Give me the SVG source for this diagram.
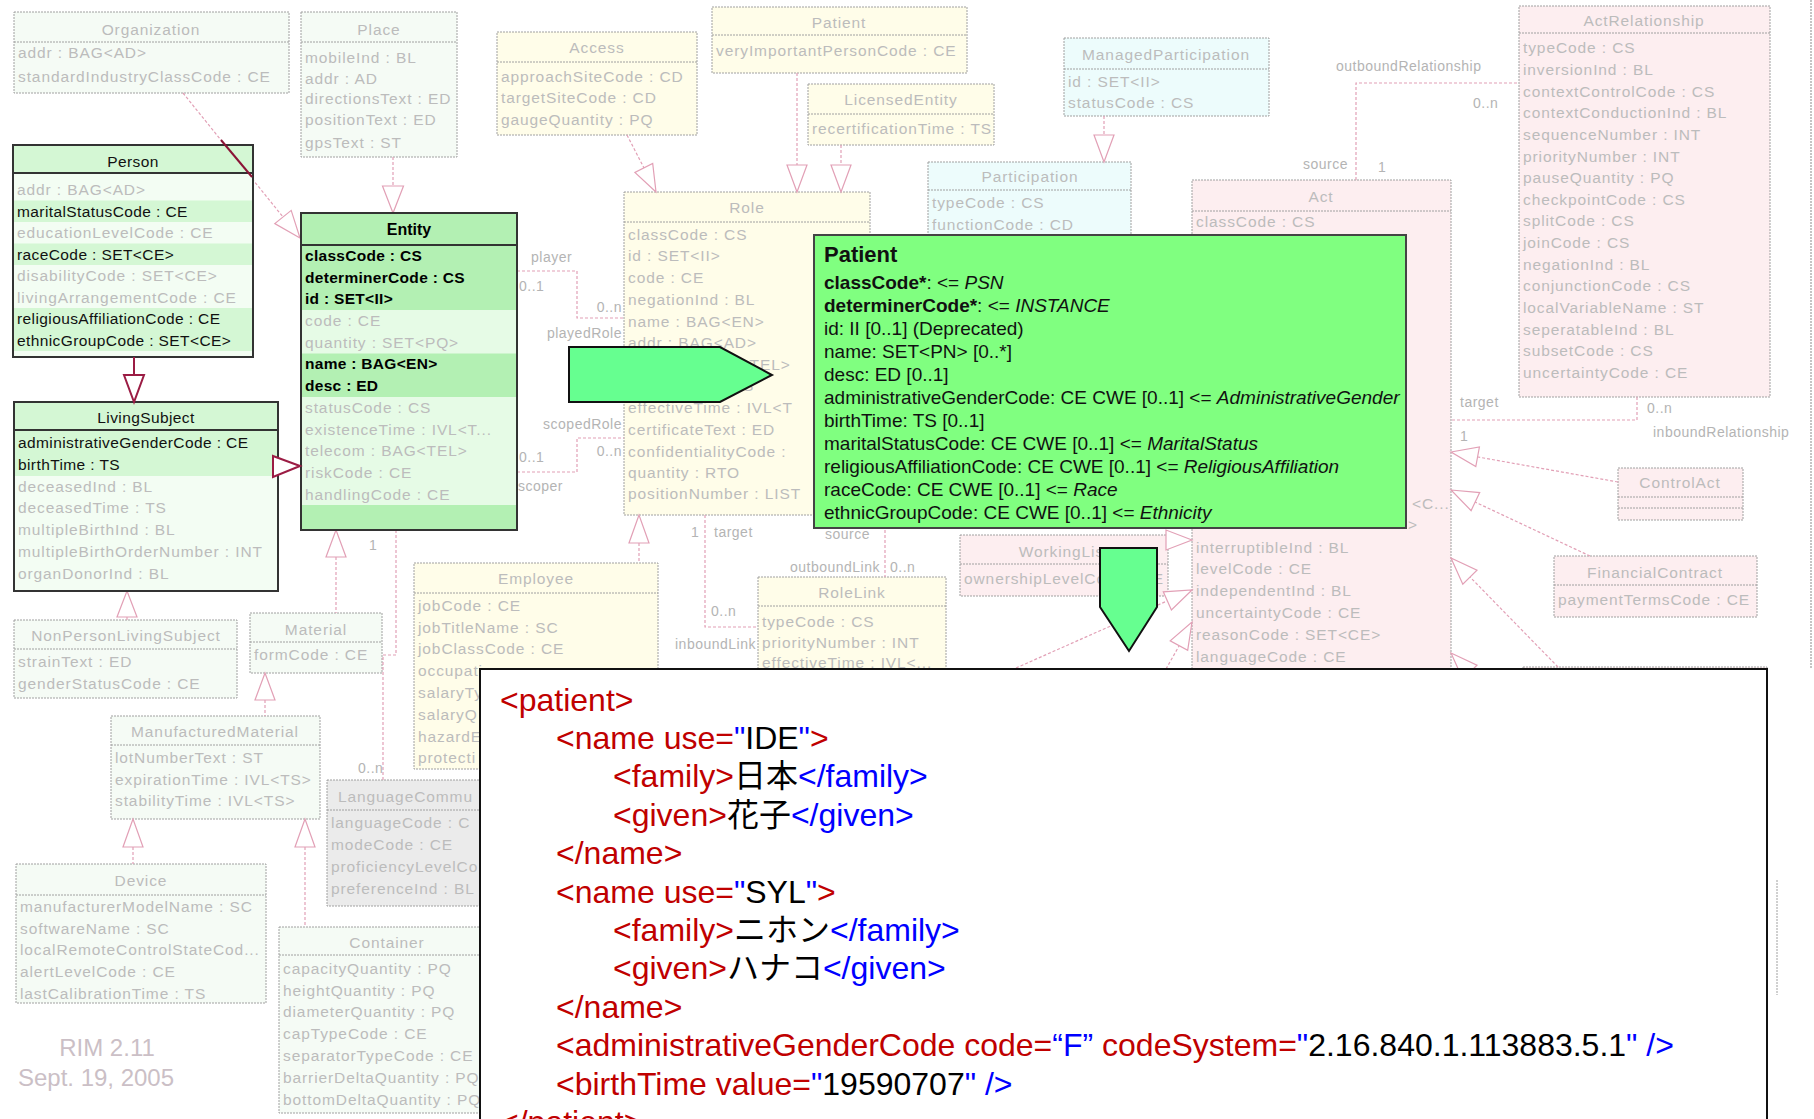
<svg xmlns="http://www.w3.org/2000/svg" width="1814" height="1119" viewBox="0 0 1814 1119">
<style>
text{font-family:'Liberation Sans',Arial,sans-serif}
.r{font-size:15.5px;letter-spacing:0.9px;fill:#bcbcbc}
.h{font-size:15.5px;letter-spacing:0.9px;fill:#bcbcbc;text-anchor:middle}
.d{font-size:15.5px;letter-spacing:0.4px;fill:#111}
.db{font-size:15.5px;letter-spacing:0.3px;font-weight:bold;fill:#000}
.hd{font-size:15.5px;letter-spacing:0.4px;fill:#111;text-anchor:middle}
.hdb{font-size:16px;font-weight:bold;fill:#000;text-anchor:middle}
.bx{stroke:#a0a0a0;stroke-width:1;stroke-dasharray:2 1}
.sep{stroke:#a0a0a0;stroke-width:1;stroke-dasharray:2 1;fill:none}
.ge{fill:#f5fbf5}.ro{fill:#fffde9}.pa{fill:#edfcfc}.ac{fill:#fdeef0}.gr{fill:#ebebeb}
.c{fill:none;stroke:#e2a0b6;stroke-width:1.2;stroke-dasharray:3 2}
.tri{fill:#fff;stroke:#e2a0b6;stroke-width:1.2}
.lb{font-size:14px;letter-spacing:0.5px;fill:#b4b4b4}
.lbe{font-size:14px;letter-spacing:0.5px;fill:#b4b4b4;text-anchor:end}
.hl{fill:none;stroke:#333;stroke-width:2}
.mr{fill:none;stroke:#9b1c44;stroke-width:2}
.mrt{fill:#fff;stroke:#9b1c44;stroke-width:2}
.pt{font-size:19px;fill:#111}
.x{font-size:32px;fill:#000}
.b{fill:#0000ff}.e{fill:#c00000}
.cj{font-family:'Noto Sans CJK JP',sans-serif}
.big{fill:#66ff90;stroke:#111;stroke-width:2}
</style>
<defs>
<clipPath id="outx"><rect x="0" y="0" width="480" height="1119"/><rect x="0" y="0" width="1814" height="669"/></clipPath>
</defs>

<g id="organization">
<rect x="14" y="12" width="275" height="81" class="bx ge"/>
<line x1="14" y1="42" x2="289" y2="42" class="sep"/>
<text x="151" y="35" class="h">Organization</text>
<text x="18" y="58" class="r">addr : BAG&lt;AD&gt;</text>
<text x="18" y="82" class="r">standardIndustryClassCode : CE</text>
</g>

<g id="place">
<rect x="301" y="12" width="156" height="145" class="bx ge"/>
<line x1="301" y1="42" x2="457" y2="42" class="sep"/>
<text x="379" y="35" class="h">Place</text>
<text x="305" y="63" class="r">mobileInd : BL</text>
<text x="305" y="84" class="r">addr : AD</text>
<text x="305" y="104" class="r">directionsText : ED</text>
<text x="305" y="125" class="r">positionText : ED</text>
<text x="305" y="148" class="r">gpsText : ST</text>
</g>

<g id="access">
<rect x="497" y="32" width="200" height="103" class="bx ro"/>
<line x1="497" y1="62" x2="697" y2="62" class="sep"/>
<text x="597" y="53" class="h">Access</text>
<text x="501" y="82" class="r">approachSiteCode : CD</text>
<text x="501" y="103" class="r">targetSiteCode : CD</text>
<text x="501" y="125" class="r">gaugeQuantity : PQ</text>
</g>

<g id="patient-class">
<rect x="712" y="7" width="255" height="66" class="bx ro"/>
<line x1="712" y1="35" x2="967" y2="35" class="sep"/>
<text x="839" y="28" class="h">Patient</text>
<text x="716" y="56" class="r">veryImportantPersonCode : CE</text>
</g>

<g id="licensed-entity">
<rect x="808" y="84" width="186" height="61" class="bx ro"/>
<line x1="808" y1="114" x2="994" y2="114" class="sep"/>
<text x="901" y="105" class="h">LicensedEntity</text>
<text x="812" y="134" class="r">recertificationTime : TS</text>
</g>

<g id="managed-participation">
<rect x="1064" y="38" width="205" height="78" class="bx pa"/>
<line x1="1064" y1="69" x2="1269" y2="69" class="sep"/>
<text x="1166" y="60" class="h">ManagedParticipation</text>
<text x="1068" y="87" class="r">id : SET&lt;II&gt;</text>
<text x="1068" y="108" class="r">statusCode : CS</text>
</g>

<g id="participation">
<rect x="928" y="162" width="203" height="200" class="bx pa"/>
<line x1="928" y1="190" x2="1131" y2="190" class="sep"/>
<text x="1030" y="182" class="h">Participation</text>
<text x="932" y="208" class="r">typeCode : CS</text>
<text x="932" y="230" class="r">functionCode : CD</text>
</g>

<g id="act-relationship">
<rect x="1519" y="6" width="251" height="391" class="bx ac"/>
<line x1="1519" y1="33" x2="1770" y2="33" class="sep"/>
<text x="1644" y="26" class="h">ActRelationship</text>
<text x="1523" y="53" class="r">typeCode : CS</text>
<text x="1523" y="75" class="r">inversionInd : BL</text>
<text x="1523" y="97" class="r">contextControlCode : CS</text>
<text x="1523" y="118" class="r">contextConductionInd : BL</text>
<text x="1523" y="140" class="r">sequenceNumber : INT</text>
<text x="1523" y="162" class="r">priorityNumber : INT</text>
<text x="1523" y="183" class="r">pauseQuantity : PQ</text>
<text x="1523" y="205" class="r">checkpointCode : CS</text>
<text x="1523" y="226" class="r">splitCode : CS</text>
<text x="1523" y="248" class="r">joinCode : CS</text>
<text x="1523" y="270" class="r">negationInd : BL</text>
<text x="1523" y="291" class="r">conjunctionCode : CS</text>
<text x="1523" y="313" class="r">localVariableName : ST</text>
<text x="1523" y="335" class="r">seperatableInd : BL</text>
<text x="1523" y="356" class="r">subsetCode : CS</text>
<text x="1523" y="378" class="r">uncertaintyCode : CE</text>
</g>

<g id="act">
<rect x="1192" y="180" width="259" height="500" class="bx ac"/>
<line x1="1192" y1="211" x2="1451" y2="211" class="sep"/>
<text x="1321" y="202" class="h">Act</text>
<text x="1196" y="227" class="r">classCode : CS</text>
<text x="1412" y="509" class="r">&lt;C...</text>
<text x="1408" y="530" class="r">&gt;</text>
<text x="1196" y="553" class="r">interruptibleInd : BL</text>
<text x="1196" y="574" class="r">levelCode : CE</text>
<text x="1196" y="596" class="r">independentInd : BL</text>
<text x="1196" y="618" class="r">uncertaintyCode : CE</text>
<text x="1196" y="640" class="r">reasonCode : SET&lt;CE&gt;</text>
<text x="1196" y="662" class="r">languageCode : CE</text>
</g>

<g id="control-act">
<rect x="1618" y="468" width="125" height="52" class="bx ac"/>
<line x1="1618" y1="497" x2="1743" y2="497" class="sep"/>
<line x1="1618" y1="508" x2="1743" y2="508" class="sep"/>
<text x="1680" y="488" class="h">ControlAct</text>
</g>

<g id="financial-contract">
<rect x="1554" y="556" width="203" height="61" class="bx ac"/>
<line x1="1554" y1="585" x2="1757" y2="585" class="sep"/>
<text x="1655" y="578" class="h">FinancialContract</text>
<text x="1558" y="605" class="r">paymentTermsCode : CE</text>
</g>

<g id="act-child">
<rect x="1523" y="667" width="244" height="60" class="bx ac"/>
<line x1="1777" y1="880" x2="1777" y2="995" class="sep"/>
</g>

<g id="working-list">
<rect x="960" y="535" width="208" height="61" class="bx ac"/>
<line x1="960" y1="564" x2="1168" y2="564" class="sep"/>
<text x="1064" y="557" class="h">WorkingList</text>
<text x="964" y="584" class="r">ownershipLevelCode : CE</text>
</g>

<g id="role">
<rect x="624" y="192" width="246" height="323" class="bx ro"/>
<line x1="624" y1="222" x2="870" y2="222" class="sep"/>
<text x="747" y="213" class="h">Role</text>
<text x="628" y="240" class="r">classCode : CS</text>
<text x="628" y="261" class="r">id : SET&lt;II&gt;</text>
<text x="628" y="283" class="r">code : CE</text>
<text x="628" y="305" class="r">negationInd : BL</text>
<text x="628" y="327" class="r">name : BAG&lt;EN&gt;</text>
<text x="628" y="348" class="r">addr : BAG&lt;AD&gt;</text>
<text x="628" y="370" class="r">telecom : BAG&lt;TEL&gt;</text>
<text x="628" y="391" class="r">statusCode : CS</text>
<text x="628" y="413" class="r">effectiveTime : IVL&lt;T</text>
<text x="628" y="435" class="r">certificateText : ED</text>
<text x="628" y="457" class="r">confidentialityCode :</text>
<text x="628" y="478" class="r">quantity : RTO</text>
<text x="628" y="499" class="r">positionNumber : LIST</text>
</g>

<g id="employee" clip-path="url(#outx)">
<rect x="414" y="563" width="244" height="206" class="bx ro"/>
<line x1="414" y1="593" x2="658" y2="593" class="sep"/>
<text x="536" y="584" class="h">Employee</text>
<text x="418" y="611" class="r">jobCode : CE</text>
<text x="418" y="633" class="r">jobTitleName : SC</text>
<text x="418" y="654" class="r">jobClassCode : CE</text>
<text x="418" y="676" class="r">occupati</text>
<text x="418" y="698" class="r">salaryTy</text>
<text x="418" y="720" class="r">salaryQ</text>
<text x="418" y="742" class="r">hazardE</text>
<text x="418" y="763" class="r">protecti</text>
</g>

<g id="role-link">
<rect x="758" y="577" width="188" height="92" class="bx ro"/>
<line x1="758" y1="606" x2="946" y2="606" class="sep"/>
<text x="852" y="598" class="h">RoleLink</text>
<text x="762" y="627" class="r">typeCode : CS</text>
<text x="762" y="648" class="r">priorityNumber : INT</text>
<text x="762" y="668" class="r">effectiveTime : IVL&lt;...</text>
</g>

<g id="non-person-living-subject">
<rect x="14" y="620" width="223" height="78" class="bx ge"/>
<line x1="14" y1="649" x2="237" y2="649" class="sep"/>
<text x="126" y="641" class="h">NonPersonLivingSubject</text>
<text x="18" y="667" class="r">strainText : ED</text>
<text x="18" y="689" class="r">genderStatusCode : CE</text>
</g>

<g id="material">
<rect x="250" y="613" width="132" height="60" class="bx ge"/>
<line x1="250" y1="642" x2="382" y2="642" class="sep"/>
<text x="316" y="635" class="h">Material</text>
<text x="254" y="660" class="r">formCode : CE</text>
</g>

<g id="manufactured-material">
<rect x="111" y="716" width="209" height="103" class="bx ge"/>
<line x1="111" y1="745" x2="320" y2="745" class="sep"/>
<text x="215" y="737" class="h">ManufacturedMaterial</text>
<text x="115" y="763" class="r">lotNumberText : ST</text>
<text x="115" y="785" class="r">expirationTime : IVL&lt;TS&gt;</text>
<text x="115" y="806" class="r">stabilityTime : IVL&lt;TS&gt;</text>
</g>

<g id="device">
<rect x="16" y="864" width="250" height="139" class="bx ge"/>
<line x1="16" y1="895" x2="266" y2="895" class="sep"/>
<text x="141" y="886" class="h">Device</text>
<text x="20" y="912" class="r">manufacturerModelName : SC</text>
<text x="20" y="934" class="r">softwareName : SC</text>
<text x="20" y="955" class="r">localRemoteControlStateCod...</text>
<text x="20" y="977" class="r">alertLevelCode : CE</text>
<text x="20" y="999" class="r">lastCalibrationTime : TS</text>
</g>

<g id="container" clip-path="url(#outx)">
<rect x="279" y="927" width="230" height="186" class="bx ge"/>
<line x1="279" y1="955" x2="509" y2="955" class="sep"/>
<text x="387" y="948" class="h">Container</text>
<text x="283" y="974" class="r">capacityQuantity : PQ</text>
<text x="283" y="996" class="r">heightQuantity : PQ</text>
<text x="283" y="1017" class="r">diameterQuantity : PQ</text>
<text x="283" y="1039" class="r">capTypeCode : CE</text>
<text x="283" y="1061" class="r">separatorTypeCode : CE</text>
<text x="283" y="1083" class="r">barrierDeltaQuantity : PQ</text>
<text x="283" y="1105" class="r">bottomDeltaQuantity : PQ</text>
</g>

<g id="language-communication" clip-path="url(#outx)">
<rect x="327" y="780" width="218" height="126" class="bx gr"/>
<line x1="327" y1="810" x2="545" y2="810" class="sep"/>
<text x="338" y="802" class="r">LanguageCommu</text>
<text x="331" y="828" class="r">languageCode : C</text>
<text x="331" y="850" class="r">modeCode : CE</text>
<text x="331" y="872" class="r">proficiencyLevelCo</text>
<text x="331" y="894" class="r">preferenceInd : BL</text>
</g>

<g id="rim-version">
<text x="107" y="1056" style="font-size:24px;fill:#cbbfc6;text-anchor:middle">RIM 2.11</text>
<text x="96" y="1086" style="font-size:24px;fill:#cbbfc6;text-anchor:middle">Sept. 19, 2005</text>
</g>

<g id="connectors">
<line x1="183" y1="93" x2="283" y2="217" class="c"/>
<polygon points="300,238 274.8,223.6 291.2,210.4" class="tri"/>
<line x1="393" y1="157" x2="393" y2="186" class="c"/>
<polygon points="393,213 382.5,186 403.5,186" class="tri"/>
<line x1="127" y1="617" x2="127" y2="620" class="c"/>
<polygon points="127,591 117,617 137,617" class="tri"/>
<line x1="336" y1="557" x2="336" y2="613" class="c"/>
<polygon points="336,530 326,557 346,557" class="tri"/>
<path d="M396,530 V655 H383 V780" class="c"/>
<line x1="265" y1="700" x2="265" y2="716" class="c"/>
<polygon points="265,673 255,700 275,700" class="tri"/>
<line x1="133" y1="847" x2="133" y2="864" class="c"/>
<polygon points="133,819 123,847 143,847" class="tri"/>
<line x1="305" y1="847" x2="305" y2="927" class="c"/>
<polygon points="305,819 295,847 315,847" class="tri"/>
<path d="M517,271 H577 V318 H624" class="c"/>
<path d="M517,472 H577 V438 H624" class="c"/>
<line x1="627" y1="135" x2="644" y2="168" class="c"/>
<polygon points="656,192 634.9,172.4 652.7,163.4" class="tri"/>
<line x1="797" y1="73" x2="797" y2="165" class="c"/>
<polygon points="797,192 787,165 807,165" class="tri"/>
<line x1="841" y1="145" x2="841" y2="165" class="c"/>
<polygon points="841,192 831,165 851,165" class="tri"/>
<line x1="1104" y1="116" x2="1104" y2="135" class="c"/>
<polygon points="1104,162 1094,135 1114,135" class="tri"/>
<line x1="639" y1="543" x2="639" y2="563" class="c"/>
<polygon points="639,515 629,543 649,543" class="tri"/>
<path d="M705,515 V627 H758" class="c"/>
<path d="M885,515 V577" class="c"/>
<path d="M1356,180 V83 H1519" class="c"/>
<path d="M1637,397 V420 H1451" class="c"/>
<line x1="1618" y1="482" x2="1478" y2="457" class="c"/>
<polygon points="1451,452 1479.4,447 1475.8,466.6" class="tri"/>
<line x1="1590" y1="556" x2="1475" y2="502" class="c"/>
<polygon points="1451,490 1479.7,492.6 1471.1,510.6" class="tri"/>
<line x1="1558" y1="667" x2="1470" y2="577" class="c"/>
<polygon points="1451,558 1477,570.3 1462.8,584.3" class="tri"/>
<line x1="1500" y1="700" x2="1470" y2="672" class="c"/>
<polygon points="1451,653 1477,665.3 1462.8,679.3" class="tri"/>
<polygon points="1192,540 1166,530 1166,550" class="tri"/>
<line x1="1016" y1="668" x2="1167" y2="601" class="c"/>
<polygon points="1192,590 1171.4,610 1163.3,591.8" class="tri"/>
<line x1="1166" y1="669" x2="1179" y2="646" class="c"/>
<polygon points="1192,622 1187.7,650.4 1170.2,640.8" class="tri"/>
<line x1="1811" y1="0" x2="1811" y2="669" stroke="#c4c4c4" stroke-width="2" stroke-dasharray="2 1"/>
<text x="531" y="262" class="lb">player</text>
<text x="519" y="291" class="lb">0..1</text>
<text x="622" y="312" class="lbe">0..n</text>
<text x="622" y="338" class="lbe">playedRole</text>
<text x="622" y="429" class="lbe">scopedRole</text>
<text x="622" y="456" class="lbe">0..n</text>
<text x="519" y="462" class="lb">0..1</text>
<text x="518" y="491" class="lb">scoper</text>
<text x="369" y="550" class="lb">1</text>
<text x="358" y="773" class="lb">0..n</text>
<text x="691" y="537" class="lb">1</text>
<text x="714" y="537" class="lb">target</text>
<text x="711" y="616" class="lb">0..n</text>
<text x="756" y="649" class="lbe">inboundLink</text>
<text x="870" y="539" class="lbe">source</text>
<text x="880" y="572" class="lbe">outboundLink</text>
<text x="890" y="572" class="lb">0..n</text>
<text x="1348" y="169" class="lbe">source</text>
<text x="1378" y="172" class="lb">1</text>
<text x="1336" y="71" class="lb">outboundRelationship</text>
<text x="1473" y="108" class="lb">0..n</text>
<text x="1460" y="407" class="lb">target</text>
<text x="1460" y="441" class="lb">1</text>
<text x="1647" y="413" class="lb">0..n</text>
<text x="1653" y="437" class="lb">inboundRelationship</text>
</g>

<g id="person">
<rect x="13" y="145" width="240" height="212" fill="#f3fdf3"/>
<rect x="13" y="145" width="240" height="28" fill="#d4f7d4"/>
<rect x="13" y="200.5" width="240" height="21.5" fill="#d4f7d4"/>
<rect x="13" y="243.5" width="240" height="21.5" fill="#d4f7d4"/>
<rect x="13" y="308" width="240" height="43" fill="#d4f7d4"/>
<line x1="13" y1="173" x2="253" y2="173" stroke="#333" stroke-width="2"/>
<rect x="13" y="145" width="240" height="212" class="hl"/>
<text x="133" y="167" class="hd">Person</text>
<text x="17" y="195" class="r">addr : BAG&lt;AD&gt;</text>
<text x="17" y="216.5" class="d">maritalStatusCode : CE</text>
<text x="17" y="238" class="r">educationLevelCode : CE</text>
<text x="17" y="259.5" class="d">raceCode : SET&lt;CE&gt;</text>
<text x="17" y="281" class="r">disabilityCode : SET&lt;CE&gt;</text>
<text x="17" y="302.5" class="r">livingArrangementCode : CE</text>
<text x="17" y="324" class="d">religiousAffiliationCode : CE</text>
<text x="17" y="345.5" class="d">ethnicGroupCode : SET&lt;CE&gt;</text>
</g>

<g id="entity">
<rect x="301" y="213" width="216" height="317" fill="#e6fbe6"/>
<rect x="301" y="213" width="216" height="32" fill="#b3f0b3"/>
<rect x="301" y="245" width="216" height="65" fill="#b3f0b3"/>
<rect x="301" y="353.5" width="216" height="43.5" fill="#b3f0b3"/>
<rect x="301" y="505" width="216" height="25" fill="#b3f0b3"/>
<line x1="301" y1="245" x2="517" y2="245" stroke="#333" stroke-width="2"/>
<rect x="301" y="213" width="216" height="317" class="hl"/>
<text x="409" y="235" class="hdb">Entity</text>
<text x="305" y="261" class="db">classCode : CS</text>
<text x="305" y="282.6" class="db">determinerCode : CS</text>
<text x="305" y="304.3" class="db">id : SET&lt;II&gt;</text>
<text x="305" y="326" class="r">code : CE</text>
<text x="305" y="347.7" class="r">quantity : SET&lt;PQ&gt;</text>
<text x="305" y="369.4" class="db">name : BAG&lt;EN&gt;</text>
<text x="305" y="391.1" class="db">desc : ED</text>
<text x="305" y="412.8" class="r">statusCode : CS</text>
<text x="305" y="434.5" class="r">existenceTime : IVL&lt;T...</text>
<text x="305" y="456.2" class="r">telecom : BAG&lt;TEL&gt;</text>
<text x="305" y="477.9" class="r">riskCode : CE</text>
<text x="305" y="499.6" class="r">handlingCode : CE</text>
</g>

<g id="living-subject">
<rect x="14" y="402" width="264" height="189" fill="#f3fdf3"/>
<rect x="14" y="402" width="264" height="28" fill="#d4f7d4"/>
<rect x="14" y="431" width="264" height="45" fill="#d4f7d4"/>
<line x1="14" y1="430" x2="278" y2="430" stroke="#333" stroke-width="2"/>
<rect x="14" y="402" width="264" height="189" class="hl"/>
<text x="146" y="423" class="hd">LivingSubject</text>
<text x="18" y="448" class="d">administrativeGenderCode : CE</text>
<text x="18" y="469.8" class="d">birthTime : TS</text>
<text x="18" y="491.6" class="r">deceasedInd : BL</text>
<text x="18" y="513.4" class="r">deceasedTime : TS</text>
<text x="18" y="535.2" class="r">multipleBirthInd : BL</text>
<text x="18" y="557" class="r">multipleBirthOrderNumber : INT</text>
<text x="18" y="578.8" class="r">organDonorInd : BL</text>
</g>

<g id="highlight-connectors">
<line x1="221" y1="140" x2="252" y2="177" stroke="#8a1436" stroke-width="2"/>
<line x1="134" y1="357" x2="134" y2="375" class="mr"/>
<polygon points="134,402 124,375 144,375" class="mrt"/>
<polygon points="300,466 273,456 273,477" class="mrt"/>
</g>

<g id="patient-rmim">
<rect x="814" y="235" width="592" height="293" fill="#80ff80" stroke="#444" stroke-width="2"/>
<text x="824" y="262" style="font-size:22px;font-weight:bold;fill:#111">Patient</text>
<text x="824" y="289" class="pt"><tspan font-weight="bold">classCode*</tspan>: &lt;= <tspan font-style="italic">PSN</tspan></text>
<text x="824" y="312" class="pt"><tspan font-weight="bold">determinerCode*</tspan>: &lt;= <tspan font-style="italic">INSTANCE</tspan></text>
<text x="824" y="335" class="pt">id: II [0..1] (Deprecated)</text>
<text x="824" y="358" class="pt">name: SET&lt;PN&gt; [0..*]</text>
<text x="824" y="381" class="pt">desc: ED [0..1]</text>
<text x="824" y="404" class="pt">administrativeGenderCode: CE CWE [0..1] &lt;= <tspan font-style="italic">AdministrativeGender</tspan></text>
<text x="824" y="427" class="pt">birthTime: TS [0..1]</text>
<text x="824" y="450" class="pt">maritalStatusCode: CE CWE [0..1] &lt;= <tspan font-style="italic">MaritalStatus</tspan></text>
<text x="824" y="473" class="pt">religiousAffiliationCode: CE CWE [0..1] &lt;= <tspan font-style="italic">ReligiousAffiliation</tspan></text>
<text x="824" y="496" class="pt">raceCode: CE CWE [0..1] &lt;= <tspan font-style="italic">Race</tspan></text>
<text x="824" y="519" class="pt">ethnicGroupCode: CE CWE [0..1] &lt;= <tspan font-style="italic">Ethnicity</tspan></text>
</g>

<g id="arrow-right">
<polygon points="569,347 720,347 772,375 720,402 569,402" class="big"/>
</g>
<g id="arrow-down">
<polygon points="1100,548 1157,548 1157,607 1129,651 1100,607" class="big"/>
</g>

<g id="xml-instance">
<rect x="480" y="669" width="1287" height="470" fill="#fff" stroke="#111" stroke-width="2"/>
<text x="500" y="711" class="x" xml:space="preserve"><tspan class="e">&lt;patient&gt;</tspan></text>
<text x="556" y="749" class="x" xml:space="preserve"><tspan class="e">&lt;name use=</tspan><tspan class="b">"</tspan>IDE<tspan class="b">"</tspan><tspan class="e">&gt;</tspan></text>
<text x="613" y="787" class="x" xml:space="preserve"><tspan class="e">&lt;family&gt;</tspan><tspan class="cj">日本</tspan><tspan class="b">&lt;/family&gt;</tspan></text>
<text x="613" y="826" class="x" xml:space="preserve"><tspan class="e">&lt;given&gt;</tspan><tspan class="cj">花子</tspan><tspan class="b">&lt;/given&gt;</tspan></text>
<text x="556" y="864" class="x" xml:space="preserve"><tspan class="e">&lt;/name&gt;</tspan></text>
<text x="556" y="903" class="x" xml:space="preserve"><tspan class="e">&lt;name use=</tspan><tspan class="b">"</tspan>SYL<tspan class="b">"</tspan><tspan class="e">&gt;</tspan></text>
<text x="613" y="941" class="x" xml:space="preserve"><tspan class="e">&lt;family&gt;</tspan><tspan class="cj">ニホン</tspan><tspan class="b">&lt;/family&gt;</tspan></text>
<text x="613" y="979" class="x" xml:space="preserve"><tspan class="e">&lt;given&gt;</tspan><tspan class="cj">ハナコ</tspan><tspan class="b">&lt;/given&gt;</tspan></text>
<text x="556" y="1018" class="x" xml:space="preserve"><tspan class="e">&lt;/name&gt;</tspan></text>
<text x="556" y="1056" class="x" xml:space="preserve"><tspan class="e">&lt;administrativeGenderCode code=</tspan><tspan class="b">“F”</tspan><tspan class="e"> codeSystem=</tspan><tspan class="b">"</tspan>2.16.840.1.113883.5.1<tspan class="b">" /&gt;</tspan></text>
<text x="556" y="1095" class="x" xml:space="preserve"><tspan class="e">&lt;birthTime value=</tspan><tspan class="b">"</tspan>19590707<tspan class="b">" /&gt;</tspan></text>
<text x="500" y="1133" class="x" xml:space="preserve"><tspan class="e">&lt;/patient&gt;</tspan></text>
</g>
</svg>
